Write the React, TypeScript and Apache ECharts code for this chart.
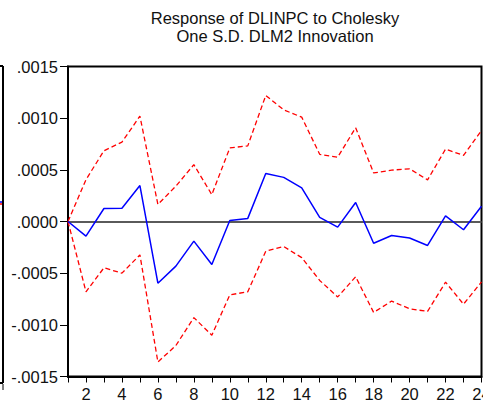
import React, { useEffect, useRef } from "react";
import * as echarts from "echarts";

const periods = [1, 2, 3, 4, 5, 6, 7, 8, 9, 10, 11, 12, 13, 14, 15, 16, 17, 18, 19, 20, 21, 22, 23, 24];
const response = [0, -0.000142, 0.000126, 0.000129, 0.000348, -0.000597, -0.000432, -0.00019, -0.000416, 0.00001, 0.00003, 0.000465, 0.000427, 0.000326, 0.00004, -0.000055, 0.000184, -0.00021, -0.000135, -0.00016, -0.000232, 0.000055, -0.00008, 0.000148];
const upperBand = [0, 0.000405, 0.000685, 0.000768, 0.00102, 0.000165, 0.000342, 0.00055, 0.00026, 0.000712, 0.000732, 0.00122, 0.00108, 0.00101, 0.00065, 0.000622, 0.000907, 0.00047, 0.000497, 0.00051, 0.000403, 0.0007, 0.00064, 0.00088];
const lowerBand = [0, -0.00068, -0.000448, -0.0005, -0.000323, -0.00136, -0.0012, -0.00093, -0.0011, -0.00071, -0.00068, -0.000288, -0.000242, -0.00035, -0.00057, -0.00073, -0.000535, -0.00088, -0.00077, -0.000845, -0.00087, -0.000587, -0.0008, -0.000585];
const titleLines = ["Response of DLINPC to Cholesky", "One S.D. DLM2 Innovation"];

const FONT = "'Liberation Sans', Arial, sans-serif";

function fmtY(v: number): string {
  const s = Math.abs(v).toFixed(4).replace(/^0/, "");
  return (v < -1e-12 ? "-" : "") + s;
}

export default function App() {
  const ref = useRef<HTMLDivElement>(null);
  useEffect(() => {
    if (!ref.current) return;
    const chart = echarts.init(ref.current, undefined, { renderer: "svg" });
    const pairs = (arr: number[]) => periods.map((p, i) => [p, arr[i]]);
    chart.setOption({
      animation: false,
      backgroundColor: "#ffffff",
      textStyle: { fontFamily: FONT },
      grid: {
        left: 68,
        top: 66.5,
        right: 14.5,
        bottom: 29.5,
        show: true,
        borderColor: "#000",
        borderWidth: 2,
        backgroundColor: "transparent",
      },
      xAxis: {
        type: "value",
        min: 1,
        max: 24,
        interval: 1,
        axisLine: { show: true, onZero: false, lineStyle: { color: "#000", width: 2 } },
        axisTick: { show: true, inside: false, length: 6, lineStyle: { color: "#000", width: 1 } },
        axisLabel: {
          margin: 9,
          fontSize: 16.5,
          color: "#111",
          fontFamily: FONT,
          formatter: (v: number) => (v % 2 === 0 ? String(v) : ""),
        },
        splitLine: { show: false },
      },
      yAxis: {
        type: "value",
        min: -0.0015,
        max: 0.0015,
        interval: 0.0005,
        axisLine: { show: true, lineStyle: { color: "#000", width: 2 } },
        axisTick: { show: true, inside: false, length: 8, lineStyle: { color: "#000", width: 1 } },
        axisLabel: {
          margin: 10,
          fontSize: 16.5,
          color: "#111",
          fontFamily: FONT,
          formatter: fmtY,
        },
        splitLine: { show: false },
      },
      graphic: [
        {
          type: "text",
          x: 275,
          y: 18,
          style: { text: titleLines[0], fontSize: 16.5, fontFamily: FONT, fill: "#111", textAlign: "center", textVerticalAlign: "middle" },
        },
        {
          type: "text",
          x: 275,
          y: 36,
          style: { text: titleLines[1], fontSize: 16.5, fontFamily: FONT, fill: "#111", textAlign: "center", textVerticalAlign: "middle" },
        },
        // fragment of the neighbouring panel at the left edge
        { type: "line", shape: { x1: 3, y1: 66, x2: 3, y2: 383 }, style: { stroke: "#000", lineWidth: 2 } },
        { type: "line", shape: { x1: 0, y1: 66, x2: 3, y2: 66 }, style: { stroke: "#000", lineWidth: 2 } },
        { type: "line", shape: { x1: 0, y1: 383, x2: 3, y2: 383 }, style: { stroke: "#000", lineWidth: 2 } },
        { type: "line", shape: { x1: 3, y1: 384, x2: 3, y2: 390 }, style: { stroke: "#000", lineWidth: 1 } },
        { type: "line", shape: { x1: 0, y1: 202, x2: 2, y2: 202 }, style: { stroke: "#0000ff", lineWidth: 1.5 } },
        { type: "line", shape: { x1: 0, y1: 204, x2: 2, y2: 204 }, style: { stroke: "#ff0000", lineWidth: 1.5 } },
        // the picture is cropped at the right
        { type: "rect", z: 100, shape: { x: 483, y: 0, width: 20, height: 406 }, style: { fill: "#fff" } },
      ],
      series: [
        {
          name: "Upper",
          type: "line",
          data: pairs(upperBand),
          symbol: "none",
          lineStyle: { color: "#ff0000", width: 1.3, type: [5, 3] },
          z: 3,
        },
        {
          name: "Lower",
          type: "line",
          data: pairs(lowerBand),
          symbol: "none",
          lineStyle: { color: "#ff0000", width: 1.3, type: [5, 3] },
          z: 3,
        },
        {
          name: "Response",
          type: "line",
          data: pairs(response),
          symbol: "none",
          lineStyle: { color: "#0000ff", width: 1.5 },
          z: 4,
          markLine: {
            silent: true,
            symbol: "none",
            label: { show: false },
            lineStyle: { color: "#5a5a5a", width: 1.8, type: "solid" },
            data: [{ yAxis: 0 }],
            z: 2,
          },
        },
      ],
    });
    return () => chart.dispose();
  }, []);
  return <div ref={ref} style={{ position: "fixed", left: 0, top: 0, width: 496, height: 406 }} />;
}
